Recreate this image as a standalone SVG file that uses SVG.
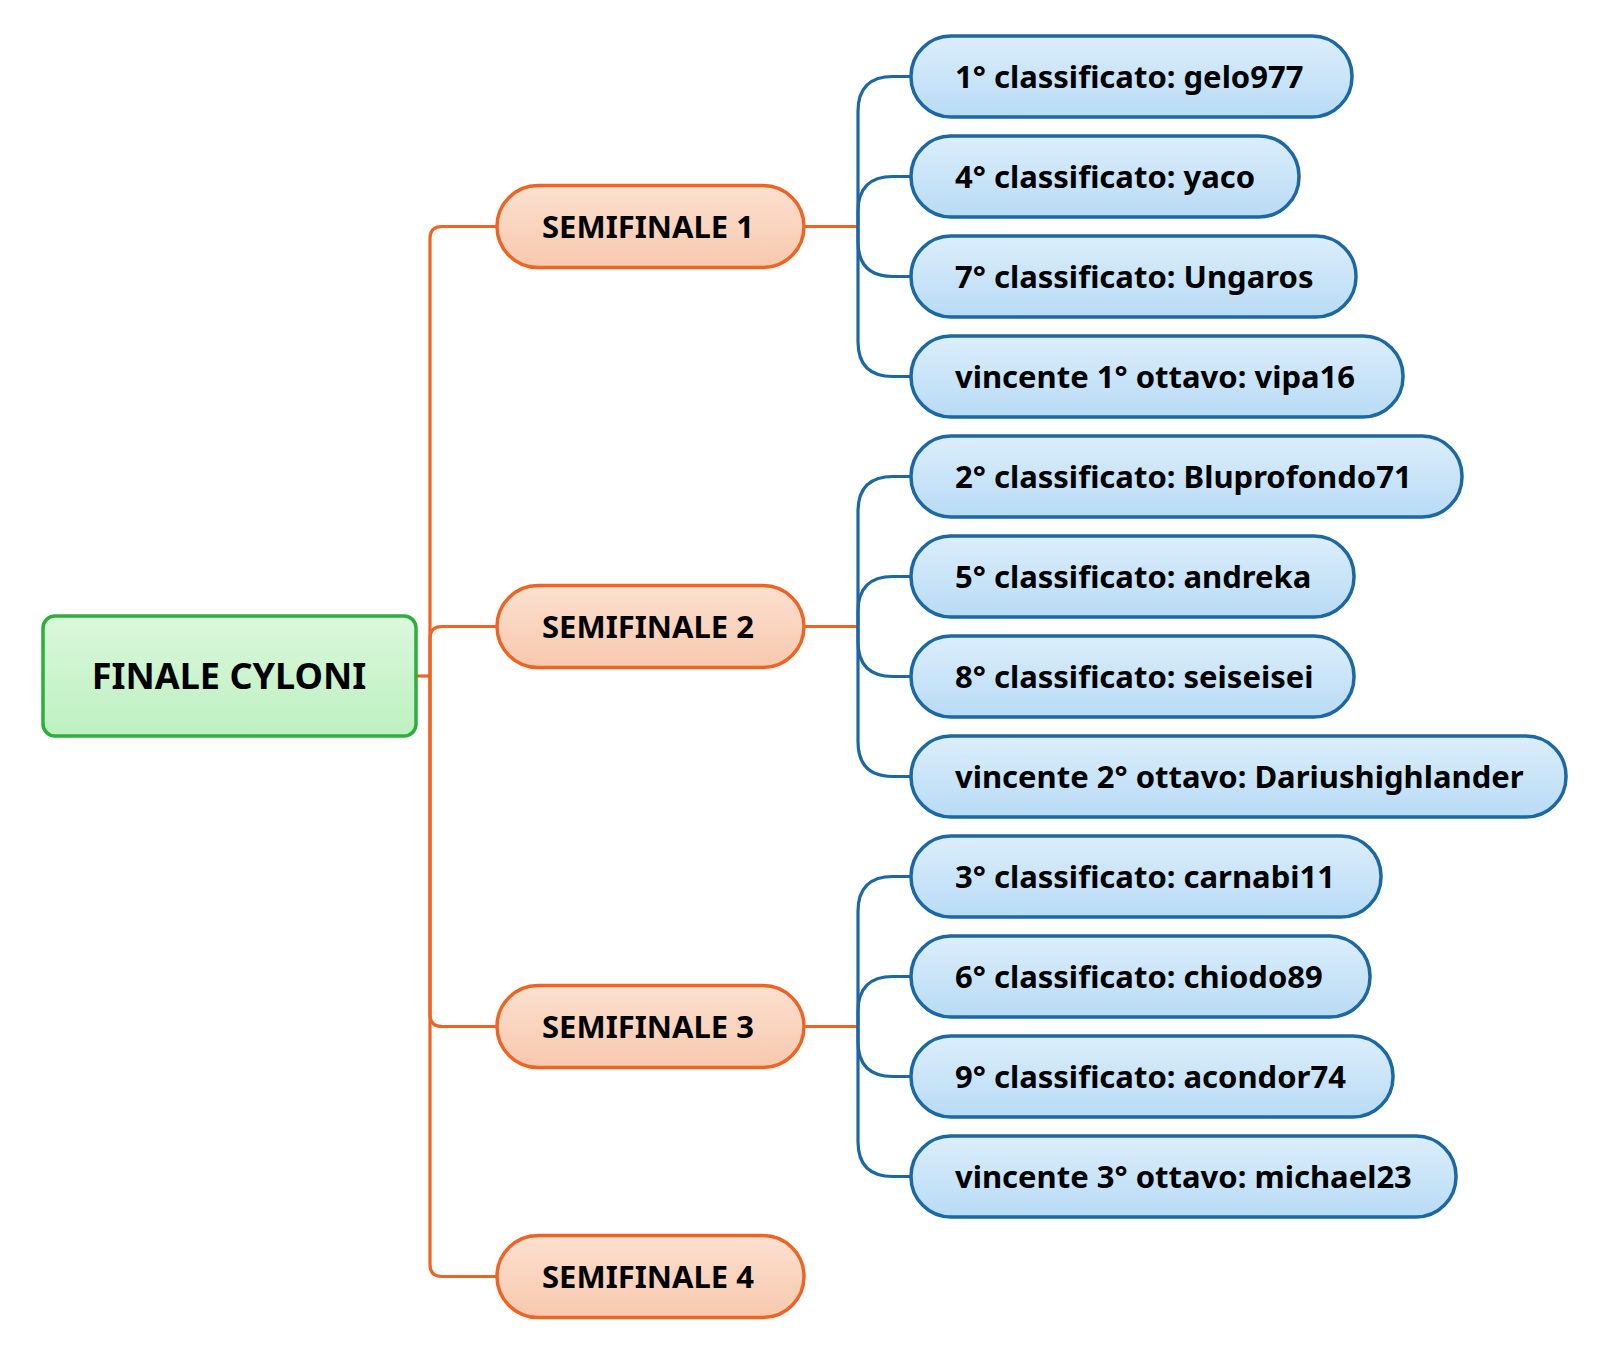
<svg xmlns="http://www.w3.org/2000/svg" width="1600" height="1357" viewBox="0 0 1600 1357">
<style>
text{font-family:"Noto Sans","Open Sans","DejaVu Sans",sans-serif;font-weight:bold;fill:#000}
.leaf rect{fill:url(#gb);stroke:#1C68A3;stroke-width:3.5}
.leaf text{font-size:31px}
.semi rect{fill:url(#go);stroke:#EE6424;stroke-width:3.5}
.semi text{font-size:31px;text-anchor:middle}
.root rect{fill:url(#gg);stroke:#2DAF3C;stroke-width:3.5}
.root text{font-size:36px;text-anchor:middle}
.co{fill:none;stroke:#EE6424;stroke-width:3.2}
.cb{fill:none;stroke:#1C68A3;stroke-width:3.2}
</style>
<defs>
<linearGradient id="gb" x1="0" y1="0" x2="0" y2="1"><stop offset="0" stop-color="#DCEEFB"/><stop offset="1" stop-color="#B8DBF5"/></linearGradient>
<linearGradient id="go" x1="0" y1="0" x2="0" y2="1"><stop offset="0" stop-color="#FCE0D0"/><stop offset="1" stop-color="#F8C9AE"/></linearGradient>
<linearGradient id="gg" x1="0" y1="0" x2="0" y2="1"><stop offset="0" stop-color="#DBF8DC"/><stop offset="1" stop-color="#BDF0C0"/></linearGradient>
</defs>
<rect width="1600" height="1357" fill="#fff"/>
<g id="connectors">
<path class="co" d="M416 676 H430"/>
<path class="co" d="M430 676 V238.5 Q430 226.5 442 226.5 H497"/>
<path class="co" d="M430 676 V638.5 Q430 626.5 442 626.5 H497"/>
<path class="co" d="M430 676 V1014.5 Q430 1026.5 442 1026.5 H497"/>
<path class="co" d="M430 676 V1264.5 Q430 1276.5 442 1276.5 H497"/>
<path class="co" d="M804 226.5 H858"/>
<path class="co" d="M804 626.5 H858"/>
<path class="co" d="M804 1026.5 H858"/>
<path class="cb" d="M858 226.5 V111.5 Q858 76.5 893 76.5 H911"/>
<path class="cb" d="M858 226.5 V211.5 Q858 176.5 893 176.5 H911"/>
<path class="cb" d="M858 226.5 V241.5 Q858 276.5 893 276.5 H911"/>
<path class="cb" d="M858 226.5 V341.5 Q858 376.5 893 376.5 H911"/>
<path class="cb" d="M858 626.5 V511.5 Q858 476.5 893 476.5 H911"/>
<path class="cb" d="M858 626.5 V611.5 Q858 576.5 893 576.5 H911"/>
<path class="cb" d="M858 626.5 V641.5 Q858 676.5 893 676.5 H911"/>
<path class="cb" d="M858 626.5 V741.5 Q858 776.5 893 776.5 H911"/>
<path class="cb" d="M858 1026.5 V911.5 Q858 876.5 893 876.5 H911"/>
<path class="cb" d="M858 1026.5 V1011.5 Q858 976.5 893 976.5 H911"/>
<path class="cb" d="M858 1026.5 V1041.5 Q858 1076.5 893 1076.5 H911"/>
<path class="cb" d="M858 1026.5 V1141.5 Q858 1176.5 893 1176.5 H911"/>
</g>
<g id="root" class="root"><rect x="43" y="616" width="373" height="120" rx="12"/><text x="229" y="689">FINALE CYLONI</text></g>
<g id="semi1" class="semi"><rect x="497" y="185.5" width="307" height="82" rx="41"/><text x="648" y="237.5">SEMIFINALE 1</text></g>
<g id="semi2" class="semi"><rect x="497" y="585.5" width="307" height="82" rx="41"/><text x="648" y="637.5">SEMIFINALE 2</text></g>
<g id="semi3" class="semi"><rect x="497" y="985.5" width="307" height="82" rx="41"/><text x="648" y="1037.5">SEMIFINALE 3</text></g>
<g id="semi4" class="semi"><rect x="497" y="1235.5" width="307" height="82" rx="41"/><text x="648" y="1287.5">SEMIFINALE 4</text></g>
<g id="leaf1" class="leaf"><rect x="911" y="36" width="441" height="81" rx="40"/><text x="955" y="87.5">1° classificato: gelo977</text></g>
<g id="leaf2" class="leaf"><rect x="911" y="136" width="388" height="81" rx="40"/><text x="955" y="187.5">4° classificato: yaco</text></g>
<g id="leaf3" class="leaf"><rect x="911" y="236" width="445" height="81" rx="40"/><text x="955" y="287.5">7° classificato: Ungaros</text></g>
<g id="leaf4" class="leaf"><rect x="911" y="336" width="492" height="81" rx="40"/><text x="955" y="387.5">vincente 1° ottavo: vipa16</text></g>
<g id="leaf5" class="leaf"><rect x="911" y="436" width="551" height="81" rx="40"/><text x="955" y="487.5">2° classificato: Bluprofondo71</text></g>
<g id="leaf6" class="leaf"><rect x="911" y="536" width="443" height="81" rx="40"/><text x="955" y="587.5">5° classificato: andreka</text></g>
<g id="leaf7" class="leaf"><rect x="911" y="636" width="443" height="81" rx="40"/><text x="955" y="687.5">8° classificato: seiseisei</text></g>
<g id="leaf8" class="leaf"><rect x="911" y="736" width="655" height="81" rx="40"/><text x="955" y="787.5">vincente 2° ottavo: Dariushighlander</text></g>
<g id="leaf9" class="leaf"><rect x="911" y="836" width="470" height="81" rx="40"/><text x="955" y="887.5">3° classificato: carnabi11</text></g>
<g id="leaf10" class="leaf"><rect x="911" y="936" width="459" height="81" rx="40"/><text x="955" y="987.5">6° classificato: chiodo89</text></g>
<g id="leaf11" class="leaf"><rect x="911" y="1036" width="482" height="81" rx="40"/><text x="955" y="1087.5">9° classificato: acondor74</text></g>
<g id="leaf12" class="leaf"><rect x="911" y="1136" width="545" height="81" rx="40"/><text x="955" y="1187.5">vincente 3° ottavo: michael23</text></g>
</svg>
